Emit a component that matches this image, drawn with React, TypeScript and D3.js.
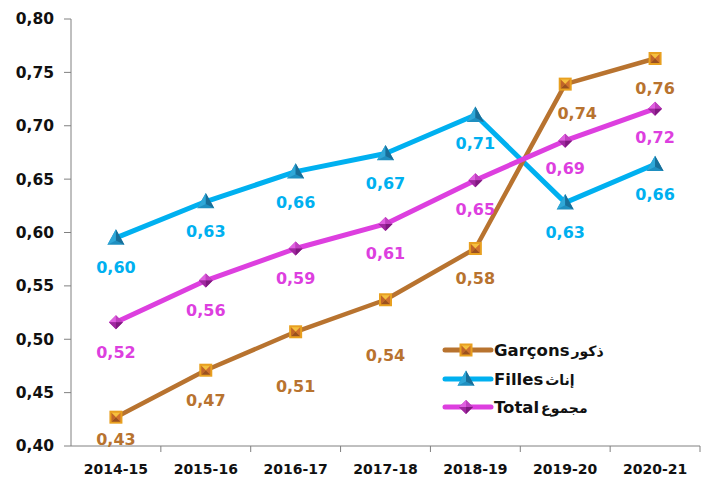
import React from "react";
import * as d3 from "d3";

const categories = ["2014-15", "2015-16", "2016-17", "2017-18", "2018-19", "2019-20", "2020-21"];
const garcons = [0.427, 0.471, 0.507, 0.537, 0.585, 0.739, 0.763];
const filles = [0.595, 0.629, 0.657, 0.674, 0.71, 0.628, 0.664];
const total = [0.516, 0.555, 0.585, 0.608, 0.649, 0.686, 0.716];
const garconsLabels = ["0,43", "0,47", "0,51", "0,54", "0,58", "0,74", "0,76"];
const fillesLabels = ["0,60", "0,63", "0,66", "0,67", "0,71", "0,63", "0,66"];
const totalLabels = ["0,52", "0,56", "0,59", "0,61", "0,65", "0,69", "0,72"];
const yTicks = [0.4, 0.45, 0.5, 0.55, 0.6, 0.65, 0.7, 0.75, 0.8];
const legendNames = ["Garçons", "Filles", "Total"];
const legendArabic = ["ذكور", "إناث", "مجموع"];

const W = 704, H = 485;
const left = 71, right = 700, top = 19, bottom = 446;

const C_G = "#B8732F";
const C_F = "#00B0F0";
const C_T = "#DD3FDF";

// label offsets (dx, dy) from point
const gOff = [[0, 22], [0, 30], [0, 55], [0, 56], [0, 30], [12, 29], [0, 30]];
const fOff = [[0, 30], [0, 30], [0, 31], [0, 30], [0, 28], [0, 30], [0, 30]];
const tOff = [[0, 30], [0, 30], [0, 30], [0, 29], [0, 29], [0, 28], [0, 29]];

const x = d3.scaleBand<string>().domain(categories).range([left, right]);
const y = d3.scaleLinear().domain([0.4, 0.8]).range([bottom, top]);
const fmt = (v: number) => d3.format(".2f")(v).replace(".", ",");

function SquareM({ cx, cy, s = 13 }: { cx: number; cy: number; s?: number }) {
  const h = s / 2;
  return (
    <g>
      <rect x={cx - h} y={cy - h} width={s} height={s} fill="#E8A020" />
      <polygon points={`${cx - h + 2},${cy - h + 2} ${cx + h - 2},${cy - h + 2} ${cx},${cy}`} fill="#F5C040" />
      <polygon points={`${cx - h + 2},${cy - h + 2} ${cx - h + 2},${cy + h - 2} ${cx},${cy}`} fill="#C0642A" />
      <polygon points={`${cx + h - 2},${cy - h + 2} ${cx + h - 2},${cy + h - 2} ${cx},${cy}`} fill="#D0702E" />
      <polygon points={`${cx - h + 2},${cy + h - 2} ${cx + h - 2},${cy + h - 2} ${cx},${cy}`} fill="#9A5020" />
    </g>
  );
}
function TriM({ cx, cy, s = 17 }: { cx: number; cy: number; s?: number }) {
  const h = s / 2;
  return (
    <g>
      <polygon points={`${cx},${cy - h} ${cx + h},${cy + h * 0.8} ${cx - h},${cy + h * 0.8}`} fill="#1F8FC0" />
      <polygon points={`${cx},${cy - h} ${cx},${cy + h * 0.3} ${cx - h},${cy + h * 0.8}`} fill="#2FA8D8" />
      <polygon points={`${cx},${cy - h} ${cx + h},${cy + h * 0.8} ${cx},${cy + h * 0.3}`} fill="#186E98" />
    </g>
  );
}
function DiaM({ cx, cy, s = 14 }: { cx: number; cy: number; s?: number }) {
  const h = s / 2;
  return (
    <g>
      <polygon points={`${cx},${cy - h} ${cx + h},${cy} ${cx},${cy + h} ${cx - h},${cy}`} fill="#B030B0" />
      <polygon points={`${cx},${cy - h} ${cx},${cy} ${cx - h},${cy}`} fill="#E060E0" />
      <polygon points={`${cx},${cy - h} ${cx + h},${cy} ${cx},${cy}`} fill="#C040C0" />
      <polygon points={`${cx - h},${cy} ${cx},${cy} ${cx},${cy + h}`} fill="#A028A0" />
      <polygon points={`${cx},${cy} ${cx + h},${cy} ${cx},${cy + h}`} fill="#801880" />
    </g>
  );
}

export default function App() {
  const cx = (c: string) => (x(c) as number) + x.bandwidth() / 2;
  const line = d3.line<number>().x((_, i) => cx(categories[i])).y((d) => y(d));
  const font = "'DejaVu Sans', Verdana, sans-serif";

  const series = [
    { data: filles, labels: fillesLabels, color: C_F, width: 5, off: fOff, M: TriM },
    { data: garcons, labels: garconsLabels, color: C_G, width: 4.5, off: gOff, M: SquareM },
    { data: total, labels: totalLabels, color: C_T, width: 5, off: tOff, M: DiaM },
  ];

  const legendColors = [C_G, C_F, C_T];
  const legendMarkers = [SquareM, TriM, DiaM];
  const legendY = [350, 379, 407];

  return (
    <svg width={W} height={H} style={{ position: "absolute", left: 0, top: 0, background: "#fff" }} fontFamily={font}>
      <line x1={left} x2={left} y1={top} y2={bottom} stroke="#808080" strokeWidth={1} />
      <line x1={left} x2={right} y1={bottom} y2={bottom} stroke="#808080" strokeWidth={1} />
      {yTicks.map((t) => (
        <g key={t}>
          <line x1={left - 7} x2={left} y1={y(t)} y2={y(t)} stroke="#808080" />
          <text x={54} y={y(t)} dy="0.35em" textAnchor="end" fontSize={15.5} fontWeight="bold" fill="#111">
            {fmt(t)}
          </text>
        </g>
      ))}
      {categories.map((c) => (
        <g key={c}>
          <line x1={(x(c) as number) + x.bandwidth()} x2={(x(c) as number) + x.bandwidth()} y1={bottom} y2={bottom + 6} stroke="#808080" />
          <text x={cx(c)} y={474} textAnchor="middle" fontSize={14} fontWeight="bold" fill="#111">
            {c}
          </text>
        </g>
      ))}
      {series.map((s, si) => (
        <path key={si} d={line(s.data) || ""} fill="none" stroke={s.color} strokeWidth={s.width} strokeLinejoin="round" />
      ))}
      {series.map((s, si) => (
        <g key={"m" + si}>
          {s.data.map((v, i) => (
            <s.M key={i} cx={cx(categories[i])} cy={y(v)} />
          ))}
        </g>
      ))}
      {series.map((s, si) => (
        <g key={"l" + si}>
          {s.data.map((v, i) => (
            <text
              key={i}
              x={cx(categories[i]) + s.off[i][0]}
              y={y(v) + s.off[i][1]}
              dy="0.35em"
              textAnchor="middle"
              fontSize={16}
              fontWeight="bold"
              fill={s.color}
            >
              {s.labels[i]}
            </text>
          ))}
        </g>
      ))}
      {legendNames.map((n, i) => {
        const M = legendMarkers[i];
        return (
          <g key={n}>
            <line x1={445} x2={491} y1={legendY[i]} y2={legendY[i]} stroke={legendColors[i]} strokeWidth={5} strokeLinecap="round" />
            <M cx={466} cy={legendY[i]} />
            <text x={494} y={legendY[i]} dy="0.35em" fontSize={16.5} fontWeight="bold" fill="#111" direction="ltr">
              <tspan>{n}</tspan>
              <tspan fontSize={14} dx={2}>{legendArabic[i]}</tspan>
            </text>
          </g>
        );
      })}
    </svg>
  );
}
